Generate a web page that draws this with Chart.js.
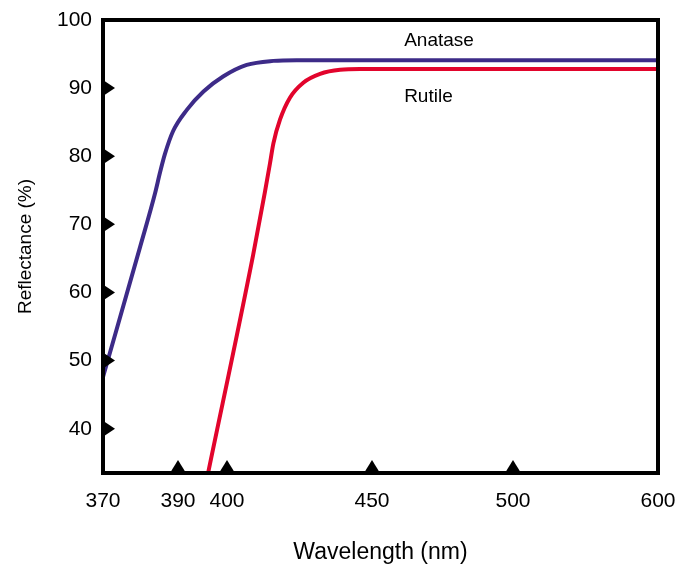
<!DOCTYPE html>
<html>
<head>
<meta charset="utf-8">
<script src="https://cdn.jsdelivr.net/npm/chart.js@4.4.0/dist/chart.umd.min.js"></script>
<style>
  body { margin: 0; background: #fff; }
</style>
</head>
<body>
<canvas id="chart" width="681" height="567"></canvas>
<script>
const tickNm = [370, 390, 400, 450, 500, 600];
const yTicks = [40, 50, 60, 70, 80, 90, 100];

const anataseNm = [370, 379.9, 383.9, 385.2, 386.5, 388.7, 391.8, 395.2, 399.2, 406.8, 416, 424, 600];
const anataseR  = [47.6, 66.7, 74.6, 77.6, 80.3, 83.7, 86.8, 89.5, 91.7, 93.4, 94.0, 94.1, 94.1];

const rutileNm = [396, 409, 413.1, 414.8, 416, 418.3, 421.7, 426.3, 432.1, 439, 445.9, 600];
const rutileR  = [33, 65.5, 74.8, 78.9, 81.9, 85.4, 88.6, 90.8, 92.1, 92.7, 92.8, 92.8];

// the printed x axis is not to scale: spacing between ticks differs,
// so wavelengths are placed piecewise between the neighbouring ticks
const tickPos = [0, 75, 124, 269, 410, 555];
function warp(nm) {
    for (let i = 1; i < tickNm.length; i++) {
        if (nm <= tickNm[i] || i == tickNm.length - 1) {
            const f = (nm - tickNm[i - 1]) / (tickNm[i] - tickNm[i - 1]);
            return tickPos[i - 1] + f * (tickPos[i] - tickPos[i - 1]);
        }
    }
}

const toPoints = (xs, ys) => xs.map((x, i) => ({ x: warp(x), y: ys[i] }));

const font = 'Liberation Sans, Arial, sans-serif';

// frame, triangle tick marks and curve names
const decor = {
    id: 'decor',
    afterDraw(chart) {
        const { ctx, chartArea: a, scales } = chart;
        const xs = scales.x, ys = scales.y;
        ctx.save();
        ctx.strokeStyle = '#000';
        ctx.lineWidth = 4;
        ctx.strokeRect(a.left, a.top, a.right - a.left, a.bottom - a.top);

        ctx.fillStyle = '#000';
        yTicks.slice(0, -1).forEach(v => {
            const y = ys.getPixelForValue(v);
            ctx.beginPath();
            ctx.moveTo(a.left, y - 8);
            ctx.lineTo(a.left + 12, y);
            ctx.lineTo(a.left, y + 8);
            ctx.closePath();
            ctx.fill();
        });
        tickNm.slice(1, -1).forEach(v => {
            const x = xs.getPixelForValue(warp(v));
            ctx.beginPath();
            ctx.moveTo(x - 8, a.bottom);
            ctx.lineTo(x, a.bottom - 13);
            ctx.lineTo(x + 8, a.bottom);
            ctx.closePath();
            ctx.fill();
        });

        ctx.font = '19px ' + font;
        ctx.textBaseline = 'middle';
        ctx.fillText('Anatase', xs.getPixelForValue(warp(461.4)), ys.getPixelForValue(97.0));
        ctx.fillText('Rutile', xs.getPixelForValue(warp(461.4)), ys.getPixelForValue(88.8));
        ctx.restore();
    }
};

new Chart(document.querySelector('#chart'), {
    type: 'line',
    data: {
        datasets: [
            {
                label: 'Anatase',
                data: toPoints(anataseNm, anataseR),
                borderColor: '#3d2b88',
                borderWidth: 4,
                pointRadius: 0,
                cubicInterpolationMode: 'monotone'
            },
            {
                label: 'Rutile',
                data: toPoints(rutileNm, rutileR),
                borderColor: '#e2042c',
                borderWidth: 4,
                pointRadius: 0,
                cubicInterpolationMode: 'monotone'
            }
        ]
    },
    options: {
        responsive: false,
        animation: false,
        layout: { padding: { top: 20, right: 23, left: 0, bottom: 0 } },
        plugins: { legend: { display: false }, tooltip: { enabled: false } },
        scales: {
            x: {
                type: 'linear',
                min: 0,
                max: 555,
                grid: { display: false, drawTicks: false },
                border: { display: false },
                afterBuildTicks: s => { s.ticks = tickPos.map(v => ({ value: v })); },
                afterFit: s => { s.height = 94; s.paddingLeft = 0; s.paddingRight = 0; },
                ticks: {
                    padding: 16,
                    color: '#000',
                    font: { family: font, size: 21 },
                    callback: v => tickNm[tickPos.indexOf(v)]
                },
                title: {
                    display: true,
                    text: 'Wavelength (nm)',
                    color: '#000',
                    font: { family: font, size: 23 },
                    padding: { top: 0, bottom: 1 }
                }
            },
            y: {
                min: 33.5,
                max: 100,
                grid: { display: false, drawTicks: false },
                border: { display: false },
                afterBuildTicks: s => { s.ticks = yTicks.map(v => ({ value: v })); },
                afterFit: s => { s.width = 103; s.paddingTop = 0; s.paddingBottom = 0; },
                ticks: {
                    padding: 11,
                    color: '#000',
                    font: { family: font, size: 21 }
                },
                title: {
                    display: true,
                    text: 'Reflectance (%)',
                    color: '#000',
                    font: { family: font, size: 19 },
                    padding: { top: 14, bottom: 0 }
                }
            }
        }
    },
    plugins: [decor]
});
</script>
</body>
</html>
